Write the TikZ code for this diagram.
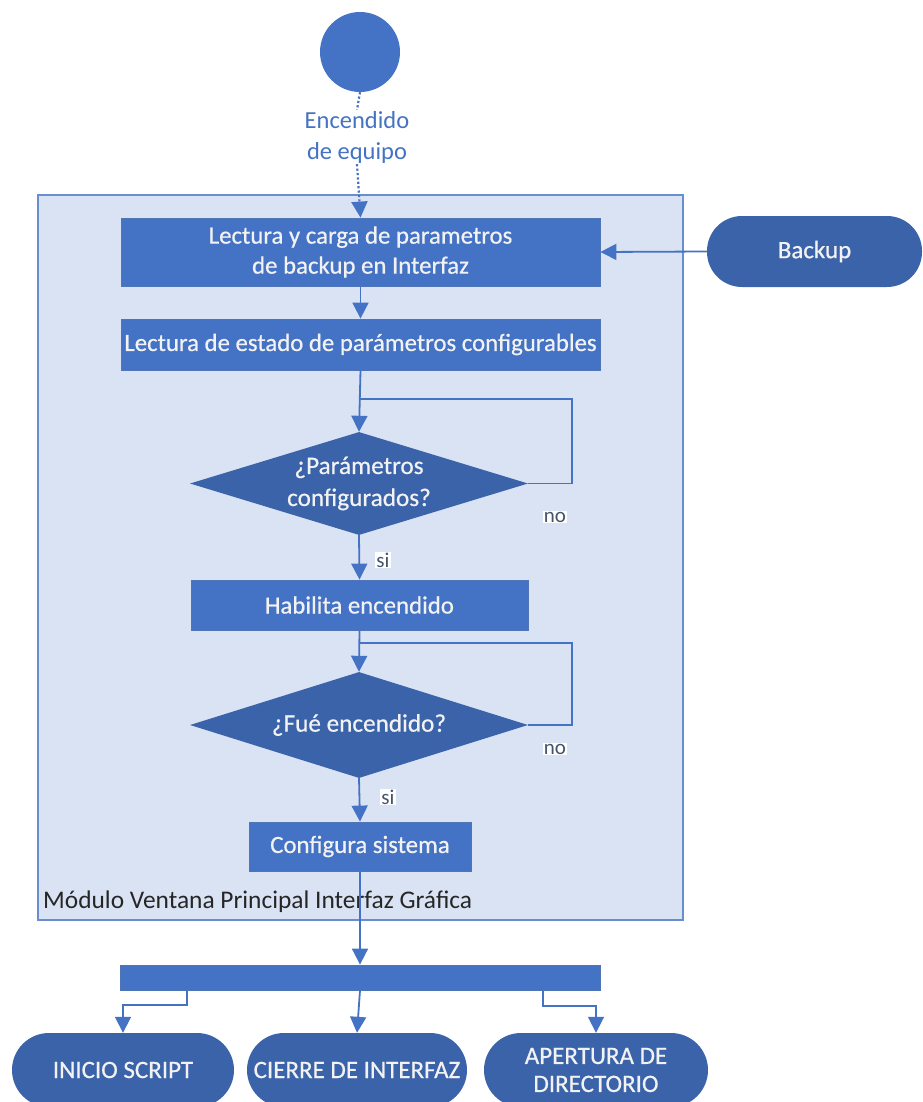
\documentclass[tikz,border=0pt]{standalone}
\usepackage{fontspec}
\setmainfont{Carlito}
\newfontfamily\semib[FakeBold=0.6]{Carlito}
\usetikzlibrary{arrows.meta,shapes.geometric}
\definecolor{boxblue}{HTML}{4472C4}
\definecolor{darkblue}{HTML}{3A63AA}
\definecolor{panel}{HTML}{DAE3F3}
\definecolor{notext}{HTML}{44546A}
\definecolor{lbltext}{HTML}{262626}
\definecolor{wtext}{HTML}{F2F2F2}
\begin{document}
\begin{tikzpicture}[x=1pt,y=-1pt,
  conn/.style={draw=boxblue, line width=1.8pt, -{Triangle[width=16pt,length=16pt]}},
  plain/.style={draw=boxblue, line width=1.8pt},
  dots/.style={draw=boxblue, line width=2.2pt, dash pattern=on 2.2pt off 2.2pt},
  proc/.style={rectangle, fill=boxblue, draw=boxblue!80!gray, line width=0.8pt, text=wtext,
    font=\semib\fontsize{24.8}{30}\selectfont, align=center, inner sep=0pt},
  dec/.style={diamond, fill=darkblue, text=wtext, inner sep=0pt, aspect=3.3,
    font=\semib\fontsize{25.2}{32}\selectfont, align=center},
  term/.style={rectangle, rounded corners=35pt, fill=darkblue, text=wtext, inner sep=0pt,
    font=\semib\fontsize{25}{28}\selectfont, align=center},
  ans/.style={fill=white, text=notext, font=\fontsize{21}{22}\selectfont, inner sep=1pt}
]
\useasboundingbox (0,0) rectangle (922,1102);
\begin{scope}
\clip (0,0) rectangle (922,1102);

% panel
\node[rectangle, draw=boxblue!80!white, line width=1.2pt, fill=panel, minimum width=645pt, minimum height=725pt, inner sep=0pt] (panel) at (360.5,557.5) {};
\node[anchor=west, text=lbltext, font=\fontsize{25.4}{27}\selectfont, inner sep=0pt] (plabel) at (43,902) {Módulo Ventana Principal Interfaz Gráfica};

% start
\node[circle, fill=boxblue, minimum size=80pt, inner sep=0pt] (start) at (360,52) {};
\node[text=boxblue, font=\fontsize{24.5}{31}\selectfont, align=center, inner sep=1pt] (startlbl) at (357,137) {Encendido\\de equipo};

% process boxes
\node[proc, minimum width=479pt, minimum height=68pt] (b1) at (360.5,252) {Lectura y carga de parametros\\de backup en Interfaz};
\node[proc, minimum width=479pt, minimum height=51pt] (b2) at (360.5,344.5) {Lectura de estado de parámetros configurables};
\node[dec, minimum width=338pt, minimum height=103pt] (d1) at (359,483.5) {\makebox[0pt]{¿Parámetros}\\\makebox[0pt]{configurados?}};
\node[proc, minimum width=337pt, minimum height=50pt] (b3) at (359.5,605) {Habilita encendido};
\node[dec, minimum width=338pt, minimum height=106pt] (d2) at (359,725) {\makebox[0pt]{¿Fué encendido?}};
\node[proc, minimum width=222pt, minimum height=49pt] (b4) at (360,846.5) {Configura sistema};

% backup
\node[term, minimum width=215pt, minimum height=71pt] (backup) at (814.5,251.5) {Backup};

% bar
\node[rectangle, fill=boxblue, draw=boxblue!80!gray, line width=0.8pt, minimum width=480pt, minimum height=25pt, inner sep=0pt] (bar) at (360,977.5) {};

% terminals
\node[term, minimum width=222pt, minimum height=74pt, rounded corners=37pt] (t1) at (123,1070) {INICIO SCRIPT};
\node[term, minimum width=220pt, minimum height=74pt, rounded corners=37pt] (t2) at (357,1070) {CIERRE DE INTERFAZ};
\node[term, minimum width=224pt, minimum height=74pt, rounded corners=37pt] (t3) at (596,1070) {APERTURA DE\\DIRECTORIO};

% coordinates
\coordinate (j1) at (360,399);
\coordinate (r1) at (572,399);
\coordinate (j2) at (360,643);
\coordinate (r2) at (572,643);
\coordinate (bl) at (187,990);
\coordinate (bl2) at (187,1005);
\coordinate (br) at (543,990);
\coordinate (br2) at (543,1006);

% connectors
\draw[dots] (start.south) -- (startlbl.north);
\draw[dots, -{Triangle[width=16pt,length=16pt]}] (startlbl.south) -- (b1.north);
\draw[conn] (backup.west) -- (b1.east);
\draw[conn] (b1.south) -- (b2.north);
\draw[conn] (b2.south) -- (d1.north);
\draw[plain] (d1.east) -| (r1) -- (j1);
\draw[conn] (d1.south) -- (b3.north);
\draw[conn] (b3.south) -- (d2.north);
\draw[plain] (d2.east) -| (r2) -- (j2);
\draw[conn] (d2.south) -- (b4.north);
\draw[conn] (b4.south) -- (bar.north);
\draw[conn] (bl) -- (bl2) -| (t1.north);
\draw[conn] (bar.south) -- (t2.north);
\draw[conn] (br) -- (br2) -| (t3.north);

% answer labels
\node[ans] (no1) at (555,517) {no};
\node[ans] (si1) at (383,560) {si};
\node[ans] (no2) at (555,749) {no};
\node[ans] (si2) at (388,797) {si};
\end{scope}
\end{tikzpicture}
\end{document}
